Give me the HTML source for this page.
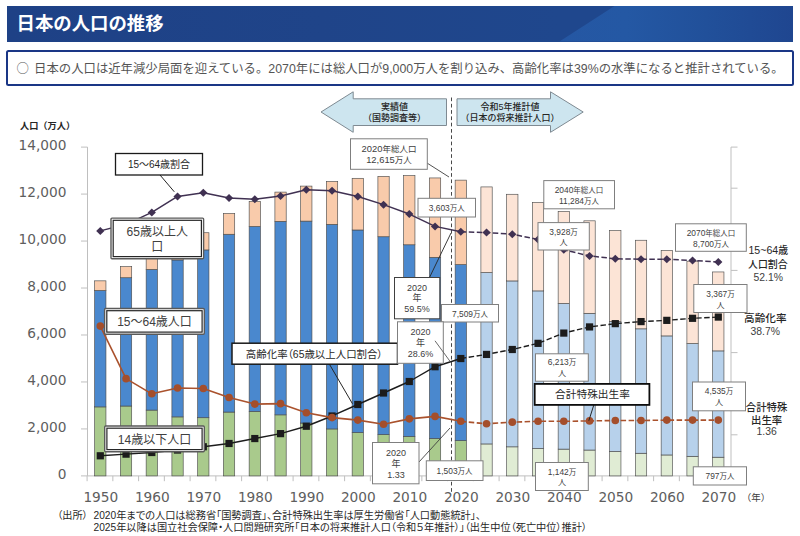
<!DOCTYPE html>
<html lang="ja">
<head>
<meta charset="utf-8">
<title>日本の人口の推移</title>
<style>
html,body{margin:0;padding:0;background:#fff;}
body{width:800px;height:536px;position:relative;overflow:hidden;font-family:'Liberation Sans','Noto Sans CJK JP',sans-serif;}
.hdr{position:absolute;left:6.5px;top:6px;width:786.5px;height:35.6px;overflow:hidden;
 background:linear-gradient(90deg,#1e4186 0%,#1f4489 40%,#1f478d 70%,#1f478d 100%);}
.hdr:before{content:"";position:absolute;left:0;top:0;width:100%;height:100%;
 clip-path:polygon(553px 100%,608px 0,100% 0,100% 100%);
 background:linear-gradient(90deg,#2557a3 553px,#2458a4 620px,#21509a 700px,#1f4690 786px);}
.hdr h1{margin:0;position:absolute;z-index:1;left:10px;top:0;line-height:36px;font-size:18.4px;font-weight:bold;color:#fff;letter-spacing:0;white-space:nowrap;}
.info{position:absolute;left:5.5px;top:50px;width:784.5px;height:31.5px;border:2.5px solid #1a3686;border-radius:2.5px;background:#fff;}
.info p{margin:0;position:absolute;left:9px;top:0px;line-height:32px;font-size:12.37px;color:#555;white-space:nowrap;}
.info .c{font-family:'Noto Sans CJK JP',sans-serif;display:inline-block;width:17.6px;}
svg{position:absolute;left:0;top:0;}
</style>
</head>
<body>
<div class="hdr"><h1>日本の人口の推移</h1></div>
<div class="info"><p><span class="c">○</span><span id="it">日本の人口は近年減少局面を迎えている。2070年には総人口が9,000万人を割り込み、高齢化率は39%の水準になると推計されている。</span></p></div>
<svg width="800" height="536" viewBox="0 0 800 536">
<g stroke="#bfbfbf" stroke-width="1" fill="none">
<path d="M87.5 147.1 V475.9"/>
<path d="M81 475.9 H87.5"/>
<path d="M81 428.93 H87.5"/>
<path d="M81 381.96 H87.5"/>
<path d="M81 334.99 H87.5"/>
<path d="M81 288.02 H87.5"/>
<path d="M81 241.05 H87.5"/>
<path d="M81 194.08 H87.5"/>
<path d="M81 147.11 H87.5"/>
<path d="M87.5 475.9 H731"/>
<path d="M87.1 475.9 V481.2"/>
<path d="M112.85 475.9 V481.2"/>
<path d="M138.6 475.9 V481.2"/>
<path d="M164.35 475.9 V481.2"/>
<path d="M190.1 475.9 V481.2"/>
<path d="M215.85 475.9 V481.2"/>
<path d="M241.6 475.9 V481.2"/>
<path d="M267.35 475.9 V481.2"/>
<path d="M293.1 475.9 V481.2"/>
<path d="M318.85 475.9 V481.2"/>
<path d="M344.6 475.9 V481.2"/>
<path d="M370.35 475.9 V481.2"/>
<path d="M396.1 475.9 V481.2"/>
<path d="M421.85 475.9 V481.2"/>
<path d="M447.6 475.9 V481.2"/>
<path d="M473.35 475.9 V481.2"/>
<path d="M499.1 475.9 V481.2"/>
<path d="M524.85 475.9 V481.2"/>
<path d="M550.6 475.9 V481.2"/>
<path d="M576.35 475.9 V481.2"/>
<path d="M602.1 475.9 V481.2"/>
<path d="M627.85 475.9 V481.2"/>
<path d="M653.6 475.9 V481.2"/>
<path d="M679.35 475.9 V481.2"/>
<path d="M705.1 475.9 V481.2"/>
<path d="M730.85 475.9 V481.2"/>
<path d="M731 147.1 V475.9"/>
<path d="M731 475.9 H737.5"/>
<path d="M731 434.8 H737.5"/>
<path d="M731 393.7 H737.5"/>
<path d="M731 352.6 H737.5"/>
<path d="M731 311.5 H737.5"/>
<path d="M731 270.4 H737.5"/>
<path d="M731 229.3 H737.5"/>
<path d="M731 188.2 H737.5"/>
<path d="M731 147.1 H737.5"/>
</g>
<g stroke="#4d4d4d" stroke-width="0.65">
<rect x="94.65" y="406.90" width="11.3" height="69.00" fill="#a9ca8c"/>
<rect x="94.65" y="290.47" width="11.3" height="116.43" fill="#4a88ce"/>
<rect x="94.65" y="280.84" width="11.3" height="9.64" fill="#f9cbab"/>
<rect x="120.4" y="406.03" width="11.3" height="69.87" fill="#a9ca8c"/>
<rect x="120.4" y="277.72" width="11.3" height="128.31" fill="#4a88ce"/>
<rect x="120.4" y="266.58" width="11.3" height="11.14" fill="#f9cbab"/>
<rect x="146.15" y="410.09" width="11.3" height="65.81" fill="#a9ca8c"/>
<rect x="146.15" y="269.42" width="11.3" height="140.67" fill="#4a88ce"/>
<rect x="146.15" y="256.88" width="11.3" height="12.54" fill="#f9cbab"/>
<rect x="171.9" y="416.89" width="11.3" height="59.01" fill="#a9ca8c"/>
<rect x="171.9" y="259.97" width="11.3" height="156.92" fill="#4a88ce"/>
<rect x="171.9" y="245.48" width="11.3" height="14.49" fill="#f9cbab"/>
<rect x="197.65" y="417.71" width="11.3" height="58.19" fill="#a9ca8c"/>
<rect x="197.65" y="249.91" width="11.3" height="167.80" fill="#4a88ce"/>
<rect x="197.65" y="232.73" width="11.3" height="17.19" fill="#f9cbab"/>
<rect x="223.4" y="412.06" width="11.3" height="63.84" fill="#a9ca8c"/>
<rect x="223.4" y="234.25" width="11.3" height="177.81" fill="#4a88ce"/>
<rect x="223.4" y="213.46" width="11.3" height="20.80" fill="#f9cbab"/>
<rect x="249.15" y="411.38" width="11.3" height="64.52" fill="#a9ca8c"/>
<rect x="249.15" y="226.45" width="11.3" height="184.93" fill="#4a88ce"/>
<rect x="249.15" y="201.45" width="11.3" height="24.99" fill="#f9cbab"/>
<rect x="274.9" y="414.85" width="11.3" height="61.05" fill="#a9ca8c"/>
<rect x="274.9" y="221.33" width="11.3" height="193.52" fill="#4a88ce"/>
<rect x="274.9" y="192.10" width="11.3" height="29.24" fill="#f9cbab"/>
<rect x="300.65" y="423.05" width="11.3" height="52.85" fill="#a9ca8c"/>
<rect x="300.65" y="221.10" width="11.3" height="201.96" fill="#4a88ce"/>
<rect x="300.65" y="186.10" width="11.3" height="35.00" fill="#f9cbab"/>
<rect x="326.4" y="428.94" width="11.3" height="46.96" fill="#a9ca8c"/>
<rect x="326.4" y="224.36" width="11.3" height="204.58" fill="#4a88ce"/>
<rect x="326.4" y="181.50" width="11.3" height="42.86" fill="#f9cbab"/>
<rect x="352.15" y="432.50" width="11.3" height="43.40" fill="#a9ca8c"/>
<rect x="352.15" y="229.99" width="11.3" height="202.52" fill="#4a88ce"/>
<rect x="352.15" y="178.31" width="11.3" height="51.67" fill="#f9cbab"/>
<rect x="377.9" y="434.66" width="11.3" height="41.24" fill="#a9ca8c"/>
<rect x="377.9" y="236.74" width="11.3" height="197.92" fill="#4a88ce"/>
<rect x="377.9" y="176.34" width="11.3" height="60.39" fill="#f9cbab"/>
<rect x="403.65" y="436.42" width="11.3" height="39.48" fill="#a9ca8c"/>
<rect x="403.65" y="244.78" width="11.3" height="191.64" fill="#4a88ce"/>
<rect x="403.65" y="175.66" width="11.3" height="69.12" fill="#f9cbab"/>
<rect x="429.4" y="438.51" width="11.3" height="37.39" fill="#a9ca8c"/>
<rect x="429.4" y="257.32" width="11.3" height="181.18" fill="#4a88ce"/>
<rect x="429.4" y="177.94" width="11.3" height="79.38" fill="#f9cbab"/>
<rect x="455.15" y="440.66" width="11.3" height="35.24" fill="#a9ca8c"/>
<rect x="455.15" y="264.61" width="11.3" height="176.05" fill="#4a88ce"/>
<rect x="455.15" y="180.14" width="11.3" height="84.47" fill="#f9cbab"/>
<rect x="480.9" y="443.94" width="11.3" height="31.96" fill="#e0ecd4"/>
<rect x="480.9" y="272.56" width="11.3" height="171.38" fill="#b7d1eb"/>
<rect x="480.9" y="186.92" width="11.3" height="85.64" fill="#fce4d6"/>
<rect x="506.65" y="446.83" width="11.3" height="29.07" fill="#e0ecd4"/>
<rect x="506.65" y="280.93" width="11.3" height="165.90" fill="#b7d1eb"/>
<rect x="506.65" y="194.28" width="11.3" height="86.65" fill="#fce4d6"/>
<rect x="532.4" y="448.49" width="11.3" height="27.41" fill="#e0ecd4"/>
<rect x="532.4" y="290.90" width="11.3" height="157.60" fill="#b7d1eb"/>
<rect x="532.4" y="202.44" width="11.3" height="88.46" fill="#fce4d6"/>
<rect x="558.15" y="449.13" width="11.3" height="26.77" fill="#e0ecd4"/>
<rect x="558.15" y="303.46" width="11.3" height="145.66" fill="#b7d1eb"/>
<rect x="558.15" y="211.37" width="11.3" height="92.09" fill="#fce4d6"/>
<rect x="583.9" y="450.04" width="11.3" height="25.86" fill="#e0ecd4"/>
<rect x="583.9" y="313.31" width="11.3" height="136.73" fill="#b7d1eb"/>
<rect x="583.9" y="220.82" width="11.3" height="92.49" fill="#fce4d6"/>
<rect x="609.65" y="451.49" width="11.3" height="24.41" fill="#e0ecd4"/>
<rect x="609.65" y="321.61" width="11.3" height="129.89" fill="#b7d1eb"/>
<rect x="609.65" y="230.45" width="11.3" height="91.15" fill="#fce4d6"/>
<rect x="635.4" y="453.25" width="11.3" height="22.65" fill="#e0ecd4"/>
<rect x="635.4" y="328.83" width="11.3" height="124.42" fill="#b7d1eb"/>
<rect x="635.4" y="240.25" width="11.3" height="88.58" fill="#fce4d6"/>
<rect x="661.15" y="454.96" width="11.3" height="20.94" fill="#e0ecd4"/>
<rect x="661.15" y="335.91" width="11.3" height="119.05" fill="#b7d1eb"/>
<rect x="661.15" y="250.48" width="11.3" height="85.43" fill="#fce4d6"/>
<rect x="686.9" y="456.30" width="11.3" height="19.60" fill="#e0ecd4"/>
<rect x="686.9" y="343.55" width="11.3" height="112.75" fill="#b7d1eb"/>
<rect x="686.9" y="261.19" width="11.3" height="82.36" fill="#fce4d6"/>
<rect x="712.65" y="457.21" width="11.3" height="18.69" fill="#e0ecd4"/>
<rect x="712.65" y="350.89" width="11.3" height="106.32" fill="#b7d1eb"/>
<rect x="712.65" y="271.95" width="11.3" height="78.94" fill="#fce4d6"/>
</g>
<path d="M451.5 97.5 V493" stroke="#333" stroke-width="0.9" stroke-dasharray="3.7 2.6" fill="none"/>
<polyline points="100.30,455.79 126.05,454.15 151.80,452.51 177.55,450.04 203.30,446.76 229.05,443.48 254.80,438.55 280.55,433.63 306.30,426.24 332.05,415.98 357.80,404.49 383.55,393.00 409.30,381.51 435.05,366.73 460.80,358.53" fill="none" stroke="#1c1c1c" stroke-width="1.4" stroke-linejoin="round"/>
<polyline points="460.80,358.53 486.55,354.42 512.30,349.50 538.05,343.34 563.80,333.08 589.55,326.92 615.30,323.64 641.05,321.59 666.80,320.36 692.55,318.31 718.30,317.08" fill="none" stroke="#1c1c1c" stroke-width="1.4" stroke-dasharray="5.5 2.5" stroke-linejoin="round"/>
<rect x="96.70" y="452.19" width="7.2" height="7.2" fill="#1c1c1c"/>
<rect x="122.45" y="450.55" width="7.2" height="7.2" fill="#1c1c1c"/>
<rect x="148.20" y="448.91" width="7.2" height="7.2" fill="#1c1c1c"/>
<rect x="173.95" y="446.44" width="7.2" height="7.2" fill="#1c1c1c"/>
<rect x="199.70" y="443.16" width="7.2" height="7.2" fill="#1c1c1c"/>
<rect x="225.45" y="439.88" width="7.2" height="7.2" fill="#1c1c1c"/>
<rect x="251.20" y="434.95" width="7.2" height="7.2" fill="#1c1c1c"/>
<rect x="276.95" y="430.03" width="7.2" height="7.2" fill="#1c1c1c"/>
<rect x="302.70" y="422.64" width="7.2" height="7.2" fill="#1c1c1c"/>
<rect x="328.45" y="412.38" width="7.2" height="7.2" fill="#1c1c1c"/>
<rect x="354.20" y="400.89" width="7.2" height="7.2" fill="#1c1c1c"/>
<rect x="379.95" y="389.40" width="7.2" height="7.2" fill="#1c1c1c"/>
<rect x="405.70" y="377.91" width="7.2" height="7.2" fill="#1c1c1c"/>
<rect x="431.45" y="363.13" width="7.2" height="7.2" fill="#1c1c1c"/>
<rect x="457.20" y="354.93" width="7.2" height="7.2" fill="#1c1c1c"/>
<rect x="482.95" y="350.82" width="7.2" height="7.2" fill="#1c1c1c"/>
<rect x="508.70" y="345.90" width="7.2" height="7.2" fill="#1c1c1c"/>
<rect x="534.45" y="339.74" width="7.2" height="7.2" fill="#1c1c1c"/>
<rect x="560.20" y="329.48" width="7.2" height="7.2" fill="#1c1c1c"/>
<rect x="585.95" y="323.32" width="7.2" height="7.2" fill="#1c1c1c"/>
<rect x="611.70" y="320.04" width="7.2" height="7.2" fill="#1c1c1c"/>
<rect x="637.45" y="317.99" width="7.2" height="7.2" fill="#1c1c1c"/>
<rect x="663.20" y="316.76" width="7.2" height="7.2" fill="#1c1c1c"/>
<rect x="688.95" y="314.71" width="7.2" height="7.2" fill="#1c1c1c"/>
<rect x="714.70" y="313.48" width="7.2" height="7.2" fill="#1c1c1c"/>
<polyline points="100.30,326.10 126.05,378.64 151.80,393.82 177.55,388.07 203.30,388.48 229.05,397.51 254.80,404.08 280.55,403.67 306.30,412.70 332.05,417.62 357.80,420.09 383.55,424.19 409.30,418.85 435.05,416.39 460.80,421.32" fill="none" stroke="#aa522d" stroke-width="1.6" stroke-linejoin="round"/>
<polyline points="460.80,421.32 486.55,423.78 512.30,422.14 538.05,421.32 563.80,421.32 589.55,420.91 615.30,420.50 641.05,420.50 666.80,420.09 692.55,420.09 718.30,420.09" fill="none" stroke="#aa522d" stroke-width="1.6" stroke-dasharray="5.5 2.5" stroke-linejoin="round"/>
<circle cx="100.30" cy="326.10" r="3.8" fill="#a44e2b"/>
<circle cx="126.05" cy="378.64" r="3.8" fill="#a44e2b"/>
<circle cx="151.80" cy="393.82" r="3.8" fill="#a44e2b"/>
<circle cx="177.55" cy="388.07" r="3.8" fill="#a44e2b"/>
<circle cx="203.30" cy="388.48" r="3.8" fill="#a44e2b"/>
<circle cx="229.05" cy="397.51" r="3.8" fill="#a44e2b"/>
<circle cx="254.80" cy="404.08" r="3.8" fill="#a44e2b"/>
<circle cx="280.55" cy="403.67" r="3.8" fill="#a44e2b"/>
<circle cx="306.30" cy="412.70" r="3.8" fill="#a44e2b"/>
<circle cx="332.05" cy="417.62" r="3.8" fill="#a44e2b"/>
<circle cx="357.80" cy="420.09" r="3.8" fill="#a44e2b"/>
<circle cx="383.55" cy="424.19" r="3.8" fill="#a44e2b"/>
<circle cx="409.30" cy="418.85" r="3.8" fill="#a44e2b"/>
<circle cx="435.05" cy="416.39" r="3.8" fill="#a44e2b"/>
<circle cx="460.80" cy="421.32" r="3.8" fill="#a44e2b"/>
<circle cx="486.55" cy="423.78" r="3.8" fill="#a44e2b"/>
<circle cx="512.30" cy="422.14" r="3.8" fill="#a44e2b"/>
<circle cx="538.05" cy="421.32" r="3.8" fill="#a44e2b"/>
<circle cx="563.80" cy="421.32" r="3.8" fill="#a44e2b"/>
<circle cx="589.55" cy="420.91" r="3.8" fill="#a44e2b"/>
<circle cx="615.30" cy="420.50" r="3.8" fill="#a44e2b"/>
<circle cx="641.05" cy="420.50" r="3.8" fill="#a44e2b"/>
<circle cx="666.80" cy="420.09" r="3.8" fill="#a44e2b"/>
<circle cx="692.55" cy="420.09" r="3.8" fill="#a44e2b"/>
<circle cx="718.30" cy="420.09" r="3.8" fill="#a44e2b"/>
<polyline points="100.30,230.89 126.05,224.32 151.80,212.42 177.55,196.42 203.30,192.72 229.05,198.06 254.80,199.29 280.55,196.01 306.30,189.85 332.05,190.67 357.80,196.42 383.55,204.63 409.30,214.06 435.05,226.38 460.80,231.71" fill="none" stroke="#403152" stroke-width="1.5" stroke-linejoin="round"/>
<polyline points="460.80,231.71 486.55,232.53 512.30,234.17 538.05,239.51 563.80,249.77 589.55,255.93 615.30,258.80 641.05,259.21 666.80,259.21 692.55,260.44 718.30,262.08" fill="none" stroke="#403152" stroke-width="1.5" stroke-dasharray="5.5 2.5" stroke-linejoin="round"/>
<path d="M96.20 230.89 L100.30 226.89 L104.40 230.89 L100.30 234.89 Z" fill="#403152"/>
<path d="M121.95 224.32 L126.05 220.32 L130.15 224.32 L126.05 228.32 Z" fill="#403152"/>
<path d="M147.70 212.42 L151.80 208.42 L155.90 212.42 L151.80 216.42 Z" fill="#403152"/>
<path d="M173.45 196.42 L177.55 192.42 L181.65 196.42 L177.55 200.42 Z" fill="#403152"/>
<path d="M199.20 192.72 L203.30 188.72 L207.40 192.72 L203.30 196.72 Z" fill="#403152"/>
<path d="M224.95 198.06 L229.05 194.06 L233.15 198.06 L229.05 202.06 Z" fill="#403152"/>
<path d="M250.70 199.29 L254.80 195.29 L258.90 199.29 L254.80 203.29 Z" fill="#403152"/>
<path d="M276.45 196.01 L280.55 192.01 L284.65 196.01 L280.55 200.01 Z" fill="#403152"/>
<path d="M302.20 189.85 L306.30 185.85 L310.40 189.85 L306.30 193.85 Z" fill="#403152"/>
<path d="M327.95 190.67 L332.05 186.67 L336.15 190.67 L332.05 194.67 Z" fill="#403152"/>
<path d="M353.70 196.42 L357.80 192.42 L361.90 196.42 L357.80 200.42 Z" fill="#403152"/>
<path d="M379.45 204.63 L383.55 200.63 L387.65 204.63 L383.55 208.63 Z" fill="#403152"/>
<path d="M405.20 214.06 L409.30 210.06 L413.40 214.06 L409.30 218.06 Z" fill="#403152"/>
<path d="M430.95 226.38 L435.05 222.38 L439.15 226.38 L435.05 230.38 Z" fill="#403152"/>
<path d="M456.70 231.71 L460.80 227.71 L464.90 231.71 L460.80 235.71 Z" fill="#403152"/>
<path d="M482.45 232.53 L486.55 228.53 L490.65 232.53 L486.55 236.53 Z" fill="#403152"/>
<path d="M508.20 234.17 L512.30 230.17 L516.40 234.17 L512.30 238.17 Z" fill="#403152"/>
<path d="M533.95 239.51 L538.05 235.51 L542.15 239.51 L538.05 243.51 Z" fill="#403152"/>
<path d="M559.70 249.77 L563.80 245.77 L567.90 249.77 L563.80 253.77 Z" fill="#403152"/>
<path d="M585.45 255.93 L589.55 251.93 L593.65 255.93 L589.55 259.93 Z" fill="#403152"/>
<path d="M611.20 258.80 L615.30 254.80 L619.40 258.80 L615.30 262.80 Z" fill="#403152"/>
<path d="M636.95 259.21 L641.05 255.21 L645.15 259.21 L641.05 263.21 Z" fill="#403152"/>
<path d="M662.70 259.21 L666.80 255.21 L670.90 259.21 L666.80 263.21 Z" fill="#403152"/>
<path d="M688.45 260.44 L692.55 256.44 L696.65 260.44 L692.55 264.44 Z" fill="#403152"/>
<path d="M714.20 262.08 L718.30 258.08 L722.40 262.08 L718.30 266.08 Z" fill="#403152"/>
<g font-family="'DejaVu Sans',sans-serif" font-size="13.7" fill="#5e5e5e">
<text x="66.5" y="479.10" text-anchor="end">0</text>
<text x="66.5" y="432.13" text-anchor="end">2,000</text>
<text x="66.5" y="385.16" text-anchor="end">4,000</text>
<text x="66.5" y="338.19" text-anchor="end">6,000</text>
<text x="66.5" y="291.22" text-anchor="end">8,000</text>
<text x="66.5" y="244.25" text-anchor="end">10,000</text>
<text x="66.5" y="197.28" text-anchor="end">12,000</text>
<text x="66.5" y="150.31" text-anchor="end">14,000</text>
<text x="100.80" y="501.8" text-anchor="middle">1950</text>
<text x="152.30" y="501.8" text-anchor="middle">1960</text>
<text x="203.80" y="501.8" text-anchor="middle">1970</text>
<text x="255.30" y="501.8" text-anchor="middle">1980</text>
<text x="306.80" y="501.8" text-anchor="middle">1990</text>
<text x="358.30" y="501.8" text-anchor="middle">2000</text>
<text x="409.80" y="501.8" text-anchor="middle">2010</text>
<text x="461.30" y="501.8" text-anchor="middle">2020</text>
<text x="512.80" y="501.8" text-anchor="middle">2030</text>
<text x="564.30" y="501.8" text-anchor="middle">2040</text>
<text x="615.80" y="501.8" text-anchor="middle">2050</text>
<text x="667.30" y="501.8" text-anchor="middle">2060</text>
<text x="718.80" y="501.8" text-anchor="middle">2070</text>
</g>
<g font-family="'Liberation Sans','Noto Sans CJK JP',sans-serif">
<path d="M321 112 L353.2 91.8 V98.8 H446.5 V125.5 H353.2 V132.3 Z" fill="#cde5ef" stroke="#7f8a92" stroke-width="1" stroke-linejoin="miter"/>
<path d="M457 98.8 H550.5 V91.8 L583.2 112 L550.5 132.3 V125.5 H457 Z" fill="#cde5ef" stroke="#7f8a92" stroke-width="1" stroke-linejoin="miter"/>
<text x="394.5" y="109.5" font-size="9" fill="#262626" font-weight="500" text-anchor="middle" >実績値</text>
<text x="394.5" y="121.4" font-size="9" fill="#262626" font-weight="500" text-anchor="middle" >（国勢調査等）</text>
<text x="510" y="109.5" font-size="9" fill="#262626" font-weight="500" text-anchor="middle" >令和5年推計値</text>
<text x="510" y="121.4" font-size="9" fill="#262626" font-weight="500" text-anchor="middle" >（日本の将来推計人口）</text>
<text x="20" y="128.5" font-size="9.2" fill="#262626" font-weight="bold" text-anchor="start" >人口（万人）</text>
<text x="756" y="500.8" font-size="9.5" fill="#404040" font-weight="normal" text-anchor="middle" >（年）</text>
<path d="M160 175 L174.3 191.8" stroke="#262626" stroke-width="1" fill="none"/>
<path d="M427 163 L449 177" stroke="#404040" stroke-width="0.9" fill="none"/>
<path d="M429.5 277.5 L451 233" stroke="#262626" stroke-width="0.9" fill="none"/>
<path d="M419 462 L450 428" stroke="#404040" stroke-width="0.9" fill="none"/>
<path d="M329.3 364 L352.5 403.8" stroke="#262626" stroke-width="1" fill="none"/>
<path d="M593.8 405 L588.8 420.8" stroke="#262626" stroke-width="1" fill="none"/>
<rect x="115.5" y="153.5" width="87.00" height="21.50" fill="#fff" stroke="#1a1a1a" stroke-width="1.3"/>
<text x="159" y="168.2" font-size="10" fill="#262626" font-weight="normal" text-anchor="middle" >15～64歳割合</text>
<rect x="111" y="218.1" width="92.60" height="40.70" fill="#fff" stroke="#5a5a5a" stroke-width="1.4" rx="1"/>
<rect x="113.2" y="220.29999999999998" width="88.20" height="36.30" fill="#fff" stroke="#262626" stroke-width="1.2"/>
<text x="157.3" y="236" font-size="12" fill="#404040" font-weight="normal" text-anchor="middle" >65歳以上人</text>
<text x="157.3" y="250.5" font-size="12" fill="#404040" font-weight="normal" text-anchor="middle" >口</text>
<rect x="104.6" y="308.5" width="99.70" height="25.80" fill="#fff" stroke="#5a5a5a" stroke-width="1.4" rx="1"/>
<rect x="106.8" y="310.7" width="95.30" height="21.40" fill="#fff" stroke="#262626" stroke-width="1.2"/>
<text x="154.5" y="325.8" font-size="12" fill="#404040" font-weight="normal" text-anchor="middle" >15～64歳人口</text>
<rect x="104.7" y="426" width="99.60" height="25.80" fill="#fff" stroke="#5a5a5a" stroke-width="1.4" rx="1"/>
<rect x="106.9" y="428.2" width="95.20" height="21.40" fill="#fff" stroke="#262626" stroke-width="1.2"/>
<text x="154.5" y="443.5" font-size="12" fill="#404040" font-weight="normal" text-anchor="middle" >14歳以下人口</text>
<rect x="232" y="343.2" width="165.50" height="21.00" fill="#fff" stroke="#1a1a1a" stroke-width="1.5"/>
<text x="314.3" y="357.5" font-size="10.45" fill="#262626" font-weight="normal" text-anchor="middle" style="font-feature-settings:'palt'" id="kr">高齢化率（65歳以上人口割合）</text>
<rect x="350.5" y="138.8" width="76.80" height="30.50" fill="#fff" stroke="#7f7f7f" stroke-width="1"/>
<text x="389" y="152.3" font-size="8.5" fill="#404040" font-weight="normal" text-anchor="middle" ><tspan font-size="9.4">2020</tspan>年総人口</text>
<text x="389" y="163.2" font-size="8.5" fill="#404040" font-weight="normal" text-anchor="middle" ><tspan font-size="9.4">12,615</tspan>万人</text>
<rect x="418" y="198.3" width="57.50" height="18.70" fill="#fff" stroke="#7f7f7f" stroke-width="1"/>
<text x="446.8" y="210.8" font-size="7.5" fill="#404040" font-weight="normal" text-anchor="middle" ><tspan font-size="8.4">3,603</tspan>万人</text>
<rect x="394.5" y="277.5" width="45.30" height="41.30" fill="#fff" stroke="#404040" stroke-width="1"/>
<text x="417" y="290.5" font-size="9" fill="#404040" font-weight="normal" text-anchor="middle" >2020</text>
<text x="417" y="301.3" font-size="9" fill="#404040" font-weight="normal" text-anchor="middle" >年</text>
<text x="417" y="312.3" font-size="9" fill="#404040" font-weight="normal" text-anchor="middle" >59.5%</text>
<rect x="441.5" y="304.5" width="57.00" height="17.50" fill="#fff" stroke="#7f7f7f" stroke-width="1"/>
<text x="470" y="316.5" font-size="7.5" fill="#404040" font-weight="normal" text-anchor="middle" ><tspan font-size="8.4">7,509</tspan>万人</text>
<rect x="397.5" y="321.8" width="45.80" height="41.50" fill="#fff" stroke="#7f7f7f" stroke-width="1"/>
<text x="420.5" y="334.5" font-size="9" fill="#404040" font-weight="normal" text-anchor="middle" >2020</text>
<text x="420.5" y="345.5" font-size="9" fill="#404040" font-weight="normal" text-anchor="middle" >年</text>
<text x="420.5" y="356.5" font-size="9" fill="#404040" font-weight="normal" text-anchor="middle" >28.6%</text>
<path d="M435 340.8 L450 361.3" stroke="#595959" stroke-width="0.9" fill="none"/>
<rect x="372.5" y="442.5" width="46.50" height="41.30" fill="#fff" stroke="#7f7f7f" stroke-width="1"/>
<text x="396" y="456" font-size="9" fill="#404040" font-weight="normal" text-anchor="middle" >2020</text>
<text x="396" y="467" font-size="9" fill="#404040" font-weight="normal" text-anchor="middle" >年</text>
<text x="396" y="478" font-size="9" fill="#404040" font-weight="normal" text-anchor="middle" >1.33</text>
<rect x="426.3" y="460.8" width="56.70" height="19.70" fill="#fff" stroke="#7f7f7f" stroke-width="1"/>
<text x="454.6" y="473.8" font-size="7.5" fill="#404040" font-weight="normal" text-anchor="middle" ><tspan font-size="8.4">1,503</tspan>万人</text>
<rect x="543.8" y="180.6" width="70.70" height="28.20" fill="#fff" stroke="#7f7f7f" stroke-width="1"/>
<text x="579" y="193.3" font-size="7.5" fill="#404040" font-weight="normal" text-anchor="middle" ><tspan font-size="8.4">2040</tspan>年総人口</text>
<text x="579" y="203.8" font-size="7.5" fill="#404040" font-weight="normal" text-anchor="middle" ><tspan font-size="8.4">11,284</tspan>万人</text>
<rect x="538" y="222.6" width="51.30" height="27.40" fill="#fff" stroke="#7f7f7f" stroke-width="1"/>
<text x="563.6" y="234.5" font-size="7.5" fill="#404040" font-weight="normal" text-anchor="middle" ><tspan font-size="8.4">3,928</tspan>万</text>
<text x="563.6" y="245.3" font-size="8.1" fill="#404040" font-weight="normal" text-anchor="middle" >人</text>
<rect x="535.5" y="353.8" width="52.80" height="27.40" fill="#fff" stroke="#7f7f7f" stroke-width="1"/>
<text x="562" y="365.2" font-size="7.5" fill="#404040" font-weight="normal" text-anchor="middle" ><tspan font-size="8.4">6,213</tspan>万</text>
<text x="562" y="375.6" font-size="8.1" fill="#404040" font-weight="normal" text-anchor="middle" >人</text>
<rect x="534.7" y="383.9" width="114.70" height="21.00" fill="#fff" stroke="#0d0d0d" stroke-width="1.8"/>
<text x="592.5" y="398.4" font-size="10.7" fill="#262626" font-weight="normal" text-anchor="middle" >合計特殊出生率</text>
<rect x="535.5" y="462.5" width="52.80" height="28.00" fill="#fff" stroke="#7f7f7f" stroke-width="1"/>
<text x="562" y="474.5" font-size="7.5" fill="#404040" font-weight="normal" text-anchor="middle" ><tspan font-size="8.4">1,142</tspan>万</text>
<text x="562" y="485.3" font-size="8.1" fill="#404040" font-weight="normal" text-anchor="middle" >人</text>
<rect x="675.5" y="223.8" width="70.80" height="27.50" fill="#fff" stroke="#7f7f7f" stroke-width="1"/>
<text x="711" y="236.3" font-size="7.5" fill="#404040" font-weight="normal" text-anchor="middle" ><tspan font-size="8.4">2070</tspan>年総人口</text>
<text x="711" y="246.8" font-size="7.5" fill="#404040" font-weight="normal" text-anchor="middle" ><tspan font-size="8.4">8,700</tspan>万人</text>
<rect x="693.8" y="284.5" width="53.20" height="28.00" fill="#fff" stroke="#7f7f7f" stroke-width="1"/>
<text x="720.5" y="297" font-size="7.5" fill="#404040" font-weight="normal" text-anchor="middle" ><tspan font-size="8.4">3,367</tspan>万</text>
<text x="720.5" y="307.8" font-size="8.1" fill="#404040" font-weight="normal" text-anchor="middle" >人</text>
<rect x="692.5" y="382" width="53.00" height="28.80" fill="#fff" stroke="#7f7f7f" stroke-width="1"/>
<text x="719" y="394.3" font-size="7.5" fill="#404040" font-weight="normal" text-anchor="middle" ><tspan font-size="8.4">4,535</tspan>万</text>
<text x="719" y="405.3" font-size="8.1" fill="#404040" font-weight="normal" text-anchor="middle" >人</text>
<rect x="693.3" y="466.8" width="53.20" height="18.20" fill="#fff" stroke="#7f7f7f" stroke-width="1"/>
<text x="720" y="479.3" font-size="7.5" fill="#404040" font-weight="normal" text-anchor="middle" ><tspan font-size="8.4">797</tspan>万人</text>
<text x="768.3" y="254" font-size="9.9" fill="#262626" font-weight="500" text-anchor="middle" ><tspan font-size="10.6">15~64</tspan>歳</text>
<text x="767.8" y="267.8" font-size="9.9" fill="#262626" font-weight="500" text-anchor="middle" >人口割合</text>
<text x="768.3" y="280.6" font-size="10.4" fill="#404040" font-weight="normal" text-anchor="middle" >52.1%</text>
<text x="765.3" y="322.3" font-size="10.6" fill="#262626" font-weight="500" text-anchor="middle" >高齢化率</text>
<text x="765.3" y="334.8" font-size="10.4" fill="#404040" font-weight="normal" text-anchor="middle" >38.7%</text>
<text x="766.6" y="410.8" font-size="10.4" fill="#262626" font-weight="500" text-anchor="middle" >合計特殊</text>
<text x="766.6" y="423.6" font-size="10.4" fill="#262626" font-weight="500" text-anchor="middle" >出生率</text>
<text x="766.6" y="435" font-size="10.4" fill="#404040" font-weight="normal" text-anchor="middle" >1.36</text>
<text x="57.2" y="518.6" font-size="10.2" fill="#262626" font-weight="normal" text-anchor="start" style="font-feature-settings:'palt'" id="f0">（出所）</text>
<text x="93.5" y="518.6" font-size="10.2" fill="#262626" font-weight="normal" text-anchor="start" style="font-feature-settings:'palt'" id="f1">2020年までの人口は総務省「国勢調査」、合計特殊出生率は厚生労働省「人口動態統計」、</text>
<text x="93.5" y="530.6" font-size="10.2" fill="#262626" font-weight="normal" text-anchor="start" style="font-feature-settings:'palt'" id="f2">2025年以降は国立社会保障・人口問題研究所「日本の将来推計人口（令和５年推計）」（出生中位（死亡中位）推計）</text>
</g>
</svg>
</body>
</html>
